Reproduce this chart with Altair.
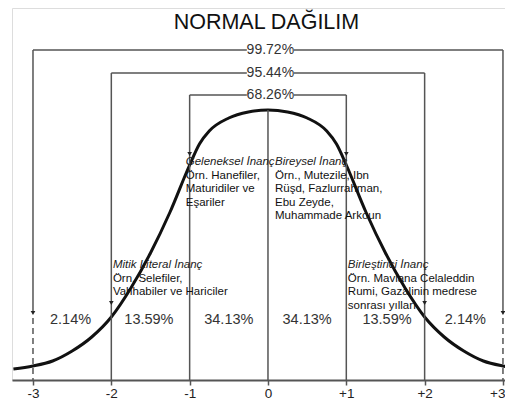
import altair as alt
import pandas as pd

# ---------------- data ----------------
title_text = "NORMAL DAĞILIM"
sigma_ticks = [-3, -2, -1, 0, 1, 2, 3]
tick_labels = ["-3", "-2", "-1", "0", "+1", "+2", "+3"]

curve_u = [-3.25, -3.0, -2.75, -2.5, -2.25, -2.0, -1.75, -1.5, -1.25, -1.0, -0.875,
           -0.75, -0.5, -0.25, 0.0, 0.25, 0.5, 0.75, 0.875, 1.0, 1.25, 1.5, 1.75,
           2.0, 2.25, 2.5, 2.75, 3.0, 3.25]
curve_h = [11, 14, 19, 29, 43, 63, 92, 127, 168, 215, 236,
           249, 262, 268, 270, 268, 262, 249, 236, 215, 168, 127, 92,
           63, 43, 29, 19, 14, 11]

band_labels = ["2.14%", "13.59%", "34.13%", "34.13%", "13.59%", "2.14%"]
band_centers = [-2.52, -1.52, -0.5, 0.5, 1.52, 2.52]

bracket_labels = ["99.72%", "95.44%", "68.26%"]
bracket_sigma = [3, 2, 1]

note_headers = ["Geleneksel İnanç", "Bireysel İnanç", "Mitik Literal İnanç", "Birleştirici İnanç"]
note_bodies = [
    ["Örn. Hanefiler,", "Maturidiler ve", "Eşariler"],
    ["Örn., Mutezile, Ibn", "Rüşd, Fazlurrahman,", "Ebu Zeyde,", "Muhammade Arkoun"],
    ["Örn. Selefiler,", "Vahhabiler ve Hariciler"],
    ["Örn. Mavlana Celaleddin", "Rumi, Gazalinin medrese", "sonrası  yılları"],
]

# ---------------- layout (pixel-like units on the y scale) ----------------
W, H = 493, 372
XDOM = [-3.268, 3.026]
bracket_h = [330, 307, 285]           # heights of the three brackets
arrow_h = {1: 226, 2: 77, 3: 67}       # arrow centres
note_anchor = [(-1.05, 218), (0.09, 218), (-1.98, 115), (1.02, 115)]
LINE = 13.5
FONT = "Liberation Sans"

xs = alt.Scale(domain=XDOM, nice=False, zero=False)
ys = alt.Scale(domain=[0, H], nice=False, zero=False)
label_expr = "[" + ",".join("'" + t + "'" for t in tick_labels) + "][datum.value + 3]"
x_axis = alt.Axis(
    values=sigma_ticks, labelExpr=label_expr, title=None, grid=False,
    domainColor="#555", domainWidth=2, tickColor="#555", tickSize=5, tickWidth=1.5,
    labelFontSize=13.5, labelColor="#222", labelFont=FONT, labelPadding=1,
    labelFlush=5, labelFlushOffset=2)


def X():
    return alt.X("u:Q", scale=xs, axis=x_axis)


def Y():
    return alt.Y("h:Q", scale=ys, axis=None)


curve_df = pd.DataFrame({"u": curve_u, "h": curve_h})
curve = alt.Chart(curve_df).mark_line(
    interpolate="monotone", clip=True, color="#111", strokeWidth=3
).encode(x=X(), y=Y())

# vertical lines
peak = max(curve_h)
vrows, drows = [], []
for s, top in zip(bracket_sigma, bracket_h):
    for sign in (-1, 1):
        if s == 3:
            vrows.append({"u": sign * s, "h": top, "h2": arrow_h[3] + 1})
            drows.append({"u": sign * s, "h": arrow_h[3] - 5, "h2": 0})
        else:
            vrows.append({"u": sign * s, "h": top, "h2": 0})
vrows.append({"u": 0, "h": peak, "h2": 0})
vdf = pd.DataFrame(vrows)
ddf = pd.DataFrame(drows)

vlines = alt.Chart(vdf).mark_rule(color="#555", strokeWidth=1.5).encode(
    x=X(), y=Y(), y2="h2:Q")
dlines = alt.Chart(ddf).mark_rule(color="#555", strokeWidth=1.5, strokeDash=[6, 4]).encode(
    x=X(), y=Y(), y2="h2:Q")

# horizontal brackets with a gap for the label
txt_c = 0.03
gap = 0.30
hrows, brows = [], []
for lab, s, hh in zip(bracket_labels, bracket_sigma, bracket_h):
    hrows.append({"u": -s, "u2": txt_c - gap, "h": hh})
    hrows.append({"u": txt_c + gap, "u2": s, "h": hh})
    brows.append({"u": txt_c, "h": hh, "t": lab})
hdf = pd.DataFrame(hrows)
bdf = pd.DataFrame(brows)
hlines = alt.Chart(hdf).mark_rule(color="#555", strokeWidth=1.5).encode(
    x=X(), x2="u2:Q", y=Y())
btext = alt.Chart(bdf).mark_text(fontSize=14, font=FONT, color="#333", baseline="middle").encode(
    x=X(), y=Y(), text="t:N")

# arrows
arows = [{"u": sign * s, "h": arrow_h[s]} for s in bracket_sigma for sign in (-1, 1)]
adf = pd.DataFrame(arows)
arrows = alt.Chart(adf).mark_point(shape="triangle-down", filled=True, size=22,
                                   color="#222", opacity=1).encode(x=X(), y=Y())

# band percentages
pdf_ = pd.DataFrame({"u": band_centers, "h": [60] * len(band_centers), "t": band_labels})
ptext = alt.Chart(pdf_).mark_text(fontSize=14.5, font=FONT, color="#333", baseline="middle").encode(
    x=X(), y=Y(), text="t:N")

# notes
hd_rows, bd_rows = [], []
for (au, ah), head, body in zip(note_anchor, note_headers, note_bodies):
    hd_rows.append({"u": au, "h": ah, "t": head})
    for i, line in enumerate(body):
        bd_rows.append({"u": au, "h": ah - (i + 1) * LINE, "t": line})
hd_df = pd.DataFrame(hd_rows)
bd_df = pd.DataFrame(bd_rows)
heads = alt.Chart(hd_df).mark_text(fontSize=11.5, font=FONT, fontStyle="italic", color="#222",
                                   align="left", baseline="middle").encode(
    x=X(), y=Y(), text="t:N")
bodies = alt.Chart(bd_df).mark_text(fontSize=11.5, font=FONT, color="#111",
                                    align="left", baseline="middle").encode(
    x=X(), y=Y(), text="t:N")

# title
tdf = pd.DataFrame({"u": [-0.02], "h": [351.5], "t": [title_text]})
title = alt.Chart(tdf).mark_text(fontSize=21.5, font=FONT, color="#111", baseline="alphabetic").encode(
    x=X(), y=Y(), text="t:N")

chart = alt.layer(
    curve, vlines, dlines, hlines, btext, arrows, ptext, heads, bodies, title
).properties(
    width=W, height=H,
    padding={"left": 4, "top": 0, "right": 0, "bottom": 20},
    autosize=alt.AutoSizeParams(type="none"),
).configure_view(strokeWidth=0).configure(background="white")

chart.save("out.html", embed_options={"renderer": "svg", "actions": False})
